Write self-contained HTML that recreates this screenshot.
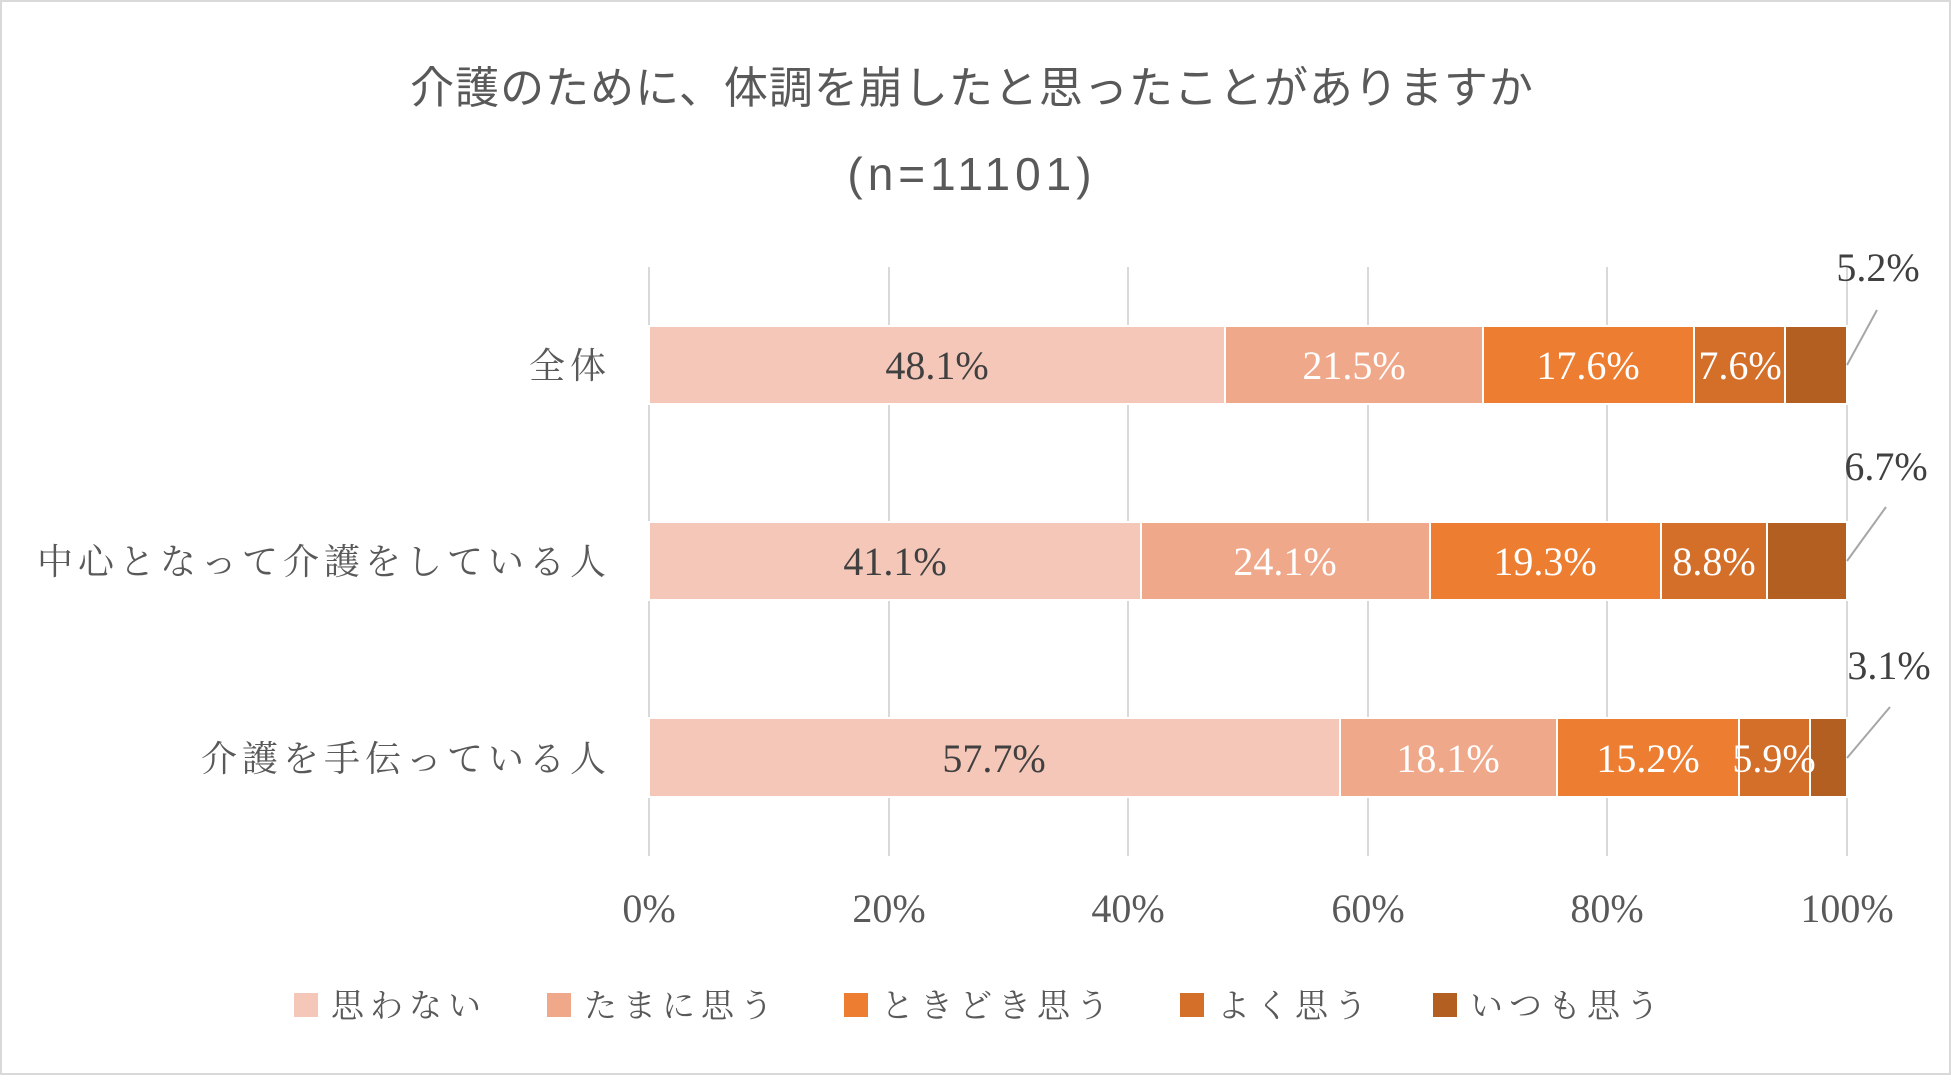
<!DOCTYPE html>
<html><head><meta charset="utf-8"><style>
body{margin:0;background:#fff;}
svg text{font-family:"Liberation Serif","Noto Serif CJK SC",serif;}
</style></head><body>
<svg width="1951" height="1075" viewBox="0 0 1951 1075" xmlns="http://www.w3.org/2000/svg">
<rect x="1" y="1" width="1949" height="1073" fill="#fff" stroke="#d9d9d9" stroke-width="2"/>
<text x="972" y="103" text-anchor="middle" font-size="44" letter-spacing="1" fill="#595959" style="font-family:'Noto Sans CJK JP',sans-serif">介護のために、体調を崩したと思ったことがありますか</text>
<text x="972" y="190" text-anchor="middle" font-size="46" letter-spacing="5" fill="#595959" style="font-family:'Liberation Sans','Noto Sans CJK JP',sans-serif">(n=11101)</text>
<g stroke="#d9d9d9" stroke-width="2">
<line x1="649" y1="267" x2="649" y2="856"/><line x1="889" y1="267" x2="889" y2="856"/><line x1="1128" y1="267" x2="1128" y2="856"/><line x1="1368" y1="267" x2="1368" y2="856"/><line x1="1607" y1="267" x2="1607" y2="856"/><line x1="1847" y1="267" x2="1847" y2="856"/>
</g>
<g font-size="40" fill="#595959" text-anchor="middle">
<text x="649" y="922">0%</text><text x="889" y="922">20%</text><text x="1128" y="922">40%</text><text x="1368" y="922">60%</text><text x="1607" y="922">80%</text><text x="1847" y="922">100%</text>
</g>
<g font-size="36" letter-spacing="5" fill="#595959" text-anchor="end" style="font-family:'Noto Sans CJK JP',sans-serif">
<text x="611" y="378">全体</text>
<text x="611" y="574">中心となって介護をしている人</text>
<text x="611" y="771">介護を手伝っている人</text>
</g>
<g stroke="#fff" stroke-width="2">
<rect x="649" y="326" width="576" height="78" fill="#F4C7B8"/>
<rect x="1225" y="326" width="258" height="78" fill="#F0A88A"/>
<rect x="1483" y="326" width="211" height="78" fill="#ED7D31"/>
<rect x="1694" y="326" width="91" height="78" fill="#D46F2A"/>
<rect x="1785" y="326" width="62" height="78" fill="#B35F22"/>
<rect x="649" y="522" width="492" height="78" fill="#F4C7B8"/>
<rect x="1141" y="522" width="289" height="78" fill="#F0A88A"/>
<rect x="1430" y="522" width="231" height="78" fill="#ED7D31"/>
<rect x="1661" y="522" width="106" height="78" fill="#D46F2A"/>
<rect x="1767" y="522" width="80" height="78" fill="#B35F22"/>
<rect x="649" y="718" width="691" height="79" fill="#F4C7B8"/>
<rect x="1340" y="718" width="217" height="79" fill="#F0A88A"/>
<rect x="1557" y="718" width="182" height="79" fill="#ED7D31"/>
<rect x="1739" y="718" width="71" height="79" fill="#D46F2A"/>
<rect x="1810" y="718" width="37" height="79" fill="#B35F22"/>
</g>
<g font-size="40" text-anchor="middle">
<text x="937" y="379" fill="#404040">48.1%</text>
<text x="1354" y="379" fill="#fff">21.5%</text>
<text x="1588" y="379" fill="#fff">17.6%</text>
<text x="1740" y="379" fill="#fff">7.6%</text>
<text x="895" y="575" fill="#404040">41.1%</text>
<text x="1285" y="575" fill="#fff">24.1%</text>
<text x="1545" y="575" fill="#fff">19.3%</text>
<text x="1714" y="575" fill="#fff">8.8%</text>
<text x="994" y="772" fill="#404040">57.7%</text>
<text x="1448" y="772" fill="#fff">18.1%</text>
<text x="1648" y="772" fill="#fff">15.2%</text>
<text x="1774" y="772" fill="#fff">5.9%</text>
<text x="1878" y="281" fill="#404040">5.2%</text>
<text x="1886" y="480" fill="#404040">6.7%</text>
<text x="1889" y="679" fill="#404040">3.1%</text>
</g>
<g stroke="#a6a6a6" stroke-width="2">
<line x1="1847" y1="365" x2="1877" y2="310"/>
<line x1="1847" y1="561" x2="1886" y2="507"/>
<line x1="1847" y1="758" x2="1890" y2="707"/>
</g>
<g font-size="33" letter-spacing="6" fill="#595959" style="font-family:'Noto Sans CJK JP',sans-serif">
<rect x="294" y="993" width="24" height="24" fill="#F4C7B8"/><text x="331" y="1017">思わない</text>
<rect x="547" y="993" width="24" height="24" fill="#F0A88A"/><text x="584" y="1017">たまに思う</text>
<rect x="844" y="993" width="24" height="24" fill="#ED7D31"/><text x="881" y="1017">ときどき思う</text>
<rect x="1180" y="993" width="24" height="24" fill="#D46F2A"/><text x="1217" y="1017">よく思う</text>
<rect x="1433" y="993" width="24" height="24" fill="#B35F22"/><text x="1470" y="1017">いつも思う</text>
</g>
</svg>
</body></html>
